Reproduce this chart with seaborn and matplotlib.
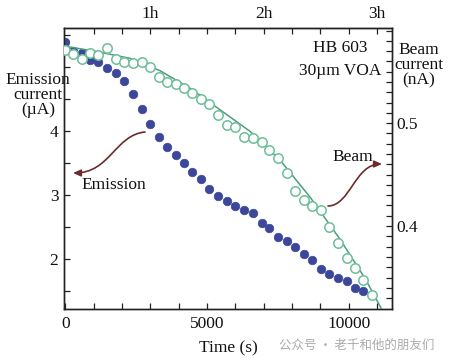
import numpy as np
import pandas as pd
import matplotlib
matplotlib.use('Agg')
import matplotlib.pyplot as plt
import seaborn as sns
from matplotlib.path import Path
from matplotlib.patches import FancyArrowPatch

# ---- data ----
time_s = [0, 265, 583, 866, 1148, 1466, 1784, 2067, 2385, 2703, 2986, 3304, 3587,
          3905, 4187, 4470, 4788, 5071, 5389, 5707, 5989, 6307, 6625, 6943, 7191,
          7509, 7827, 8110, 8428, 8710, 9028, 9311, 9629, 9947, 10230, 10512, 10830]
emission_uA = [5.39, 5.25, 5.22, 5.11, 5.08, 4.98, 4.91, 4.78, 4.58, 4.34, 4.11, 3.91,
               3.75, 3.63, 3.50, 3.36, 3.25, 3.09, 2.98, 2.91, 2.83, 2.77, 2.72, 2.56,
               2.48, 2.34, 2.28, 2.19, 2.08, 1.98, 1.84, 1.77, 1.70, 1.66, 1.55, 1.50, 1.44]
beam_nA = [0.5712, 0.5673, 0.5624, 0.5683, 0.5663, 0.5731, 0.5624, 0.5595, 0.5585,
           0.5595, 0.5547, 0.5450, 0.5401, 0.5382, 0.5343, 0.5294, 0.5236, 0.5187,
           0.5081, 0.4983, 0.4964, 0.4867, 0.4857, 0.4818, 0.4741, 0.4663, 0.4517,
           0.4343, 0.4255, 0.4197, 0.4158, 0.3993, 0.3838, 0.3692, 0.3595, 0.3478, 0.3333]
fit_time_s = [-50, 1220, 2280, 3340, 4400, 5460, 6520, 7580, 8640, 9700, 10580, 11150]
fit_beam_nA = [0.575, 0.569, 0.563, 0.551, 0.534, 0.513, 0.492, 0.464, 0.428, 0.387, 0.349, 0.320]

bottom_ticks = [0, 5000, 10000]
bottom_labels = ['0', '5000', '10000']
top_ticks = [3000, 7000, 11000]
top_labels = ['1h', '2h', '3h']
left_ticks = [2, 3, 4]
right_ticks = [0.4, 0.5]

df_e = pd.DataFrame({'t': time_s, 'v': emission_uA})
df_b = pd.DataFrame({'t': time_s, 'v': beam_nA})
df_f = pd.DataFrame({'t': fit_time_s, 'v': fit_beam_nA})

sns.set_style('ticks')
plt.rcParams['font.family'] = ['Liberation Serif', 'DejaVu Serif']

FS = 12.5
BLUE = '#3c479a'
GREEN = '#6cbf98'
GLINE = '#4f9c7a'
ARROW = '#6e2b2b'

fig = plt.figure(figsize=(4.51, 3.63), dpi=100)
ax = fig.add_axes([64/451, 1-309/363, (392-64)/451, (309-28)/363])
ax2 = ax.twinx()

sns.scatterplot(data=df_e, x='t', y='v', ax=ax, color=BLUE, s=38,
                edgecolor=BLUE, linewidth=0.5, zorder=3)
sns.lineplot(data=df_f, x='t', y='v', ax=ax2, color=GLINE, linewidth=1.1, zorder=2)
sns.scatterplot(data=df_b, x='t', y='v', ax=ax2, facecolor='white', edgecolor=GREEN,
                s=46, linewidth=1.1, zorder=4)

ax.set_xlim(-50, 11530)
ax.set_ylim(1.219, 5.609)
ax2.set_ylim(0.3194, 0.5925)

ax.set_xticks(bottom_ticks, labels=bottom_labels)
ax.set_xticks(np.arange(1000, 11001, 1000), minor=True)
ax.set_yticks(left_ticks, labels=[str(v) for v in left_ticks])
ax.set_yticks([1.5, 2.5, 3.5, 4.5, 5.0, 5.5], minor=True)
ax2.set_yticks(right_ticks, labels=['0.4', '0.5'])
ax2.set_yticks(np.arange(0.33, 0.595, 0.01), minor=True)

for a in (ax, ax2):
    a.set_xlabel('')
    a.set_ylabel('')
    for s in a.spines.values():
        s.set_visible(True)
        s.set_color('#222222')
        s.set_linewidth(1.0)

ax.tick_params(axis='both', which='both', direction='in', length=4.5, width=0.9,
               color='#222222', labelsize=FS, labelcolor='#111111')
ax.tick_params(axis='x', which='both', top=False, pad=5)
ax.tick_params(axis='y', which='both', pad=4)
ax2.tick_params(axis='y', which='both', direction='in', length=4.5, width=0.9,
                color='#222222', labelsize=FS, labelcolor='#111111', pad=3)

top = ax.secondary_xaxis('top')
top.set_xticks(top_ticks, labels=top_labels)
top.set_xticks(np.arange(1000, 11001, 1000), minor=True)
top.tick_params(axis='x', which='both', direction='in', length=4.5, width=0.9,
                color='#222222', labelsize=FS, labelcolor='#111111', pad=4)
top.spines['top'].set_color('#222222')

ax.text(0.5, -39/281, 'Time (s)', transform=ax.transAxes, ha='center', va='center',
        fontsize=FS, color='#111111')

fig.text(38/451, 1-95/363, 'Emission\ncurrent\n(µA)', ha='center', va='center',
         fontsize=FS, linespacing=0.95, color='#111111')
fig.text(419/451, 1-65/363, 'Beam\ncurrent\n(nA)', ha='center', va='center',
         fontsize=FS, linespacing=0.95, color='#111111')
fig.text(340/451, 1-48/363, 'HB 603', ha='center', va='center', fontsize=FS, color='#111111')
fig.text(340/451, 1-71/363, '30µm VOA', ha='center', va='center', fontsize=FS, color='#111111')
fig.text(114/451, 1-185/363, 'Emission', ha='center', va='center', fontsize=FS, color='#111111')
fig.text(353/451, 1-157/363, 'Beam', ha='center', va='center', fontsize=FS, color='#111111')

# curved arrows (in pixel coordinates of the figure)
def px(x, y):
    return (x, 363 - y)

for pts in ([px(145, 132), px(115, 135), px(110, 173), px(73, 173)],
            [px(328, 206), px(350, 206), px(355, 164), px(382, 164)]):
    path = Path(pts, [Path.MOVETO, Path.CURVE4, Path.CURVE4, Path.CURVE4])
    arr = FancyArrowPatch(path=path, transform=None,
                          arrowstyle='-|>,head_length=4.5,head_width=2',
                          mutation_scale=1, color=ARROW, linewidth=1.2)
    fig.add_artist(arr)

fig.text(357/451, 1-345/363, '公众号 · 老千和他的朋友们', ha='center', va='center',
         fontsize=9, color='#aaaaaa', family=['Noto Sans CJK SC', 'DejaVu Sans'])

fig.savefig('out.png', dpi=100)
